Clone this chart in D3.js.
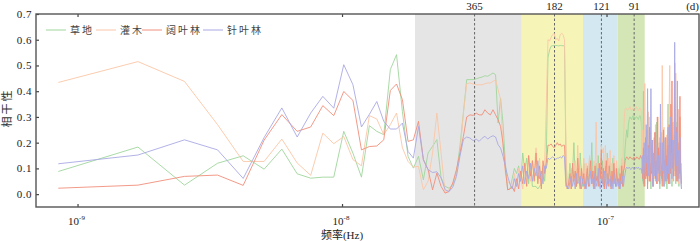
<!DOCTYPE html>
<html>
<head>
<meta charset="utf-8">
<script src="https://cdn.jsdelivr.net/npm/d3@7"></script>
<style>
body{margin:0;background:#fff;}
svg{display:block;font-family:"Liberation Serif","Times New Roman","Noto Sans CJK SC",serif;}
</style>
</head>
<body>
<div id="chart"></div>
<script>
var seriesNames = ["草地", "灌木", "阔叶林", "针叶林"];
var seriesColors = ["#9fd69c", "#fac6a6", "#f08e7a", "#a9a9e4"];

/* frequency step of the spectrum (Hz), point k sits at k*baseFreq */
var baseFreq = 8.46e-10;

var grass = [0.088,0.183,0.035,0.12,0.149,0.097,0.175,0.079,0.062,0.066,0.066,0.244,0.159,0.066,0.266,0.244,0.231,0.484,0.542,0.32,
 0.147,0.101,0.147,0.056,0.16,0.186,0.212,0.063,0.03,0.023,0.036,0.082,0.186,0.315,0.445,0.445,0.445,0.448,0.452,0.455,0.46,0.458,0.464,0.471,0.464,0.276,0.373,0.276,0.121,0.017,
 0.02,0.06,0.10,0.08,0.11,0.05,0.16,0.09,0.14,0.04,0.12,0.03,0.03,0.03,0.02,0.03,0.04,0.10,0.05,0.15,
 0.53,0.56,0.575,0.577,0.577,0.578,0.577,0.576,0.578,0.577,0.577,0.575,0.15,
 0.02,0.05,0.12,0.04,0.09,0.20,0.06,0.03,0.10,0.05,0.16,0.08,0.03,0.12,
 0.08,0.03,0.11,0.05,0.14,0.07,0.20,0.04,0.09,0.02,0.12,0.06,0.15,0.03,0.10,0.05,0.13,0.08,0.02,0.11,0.06,0.16,0.04,0.09,0.12,0.03,0.07,0.14,0.05,0.10,0.03,0.08,0.06,
 0.04,0.10,0.03,0.07,0.12,0.05,0.09,
 0.12,0.18,0.22,0.25,0.22,0.27,0.29,0.30,0.295,0.29,0.30,0.305,0.30,0.29,0.295,0.30,0.30,0.295,0.29,0.30,0.305,0.30,0.28,
 0.22,0.05,0.40,0.12,0.03,0.18,0.08,0.25,0.04,0.15,0.30,0.06,0.10,0.02,0.19,0.07,0.14,0.03,0.22,0.09,0.05,0.16,0.28,0.04,0.11,0.07,0.20,0.02,0.13,0.08,
 0.24,0.05,0.17,0.10,0.03,0.21,0.06,0.15,0.09,0.02,0.18,0.35,0.07,0.12,0.04,0.26,0.08,0.14,0.03,0.19,0.11,0.05,0.23,0.09,0.16,0.04,0.28,0.10,0.06,0.20,
 0.13,0.03,0.17,0.30,0.08,0.12,0.02];

var shrub = [0.434,0.515,0.438,0.27,0.127,0.127,0.214,0.121,0.073,0.237,0.196,0.224,0.134,0.11,0.305,0.292,0.231,0.27,0.315,0.18,
 0.127,0.105,0.108,0.017,0.05,0.16,0.315,0.16,0.004,0.017,0.043,0.076,0.16,0.315,0.429,0.432,0.428,0.425,0.425,0.425,0.429,0.432,0.432,0.438,0.445,0.406,0.367,0.186,0.082,0.05,
 0.04,0.02,0.08,0.03,0.10,0.06,0.02,0.11,0.07,0.15,0.05,0.13,0.09,0.18,0.06,0.14,0.03,0.08,0.12,0.35,
 0.60,0.595,0.61,0.62,0.625,0.60,0.605,0.595,0.62,0.625,0.62,0.60,0.20,
 0.03,0.06,0.02,0.10,0.05,0.08,0.13,0.04,0.19,0.07,0.03,0.11,0.06,0.14,
 0.05,0.12,0.04,0.09,0.15,0.06,0.11,0.03,0.13,0.08,0.28,0.07,0.12,0.05,0.10,0.19,0.16,0.18,0.07,0.19,0.11,0.04,0.14,0.08,0.17,0.06,0.12,0.03,0.15,0.09,0.05,0.13,0.08,
 0.07,0.03,0.11,0.06,0.14,0.09,0.20,
 0.30,0.33,0.335,0.33,0.325,0.33,0.335,0.34,0.33,0.325,0.33,0.335,0.33,0.325,0.33,0.34,0.335,0.33,0.325,0.33,0.335,0.33,0.32,
 0.10,0.25,0.08,0.18,0.43,0.12,0.06,0.20,0.09,0.32,0.05,0.15,0.24,0.07,0.13,0.04,0.21,0.10,0.17,0.06,0.27,0.11,0.08,0.19,0.30,0.05,0.14,0.22,0.09,0.16,
 0.12,0.50,0.20,0.07,0.26,0.13,0.04,0.18,0.11,0.23,0.08,0.15,0.06,0.34,0.50,0.14,0.09,0.21,0.05,0.17,0.28,0.10,0.07,0.19,0.12,0.47,0.16,0.08,0.25,0.11,
 0.04,0.20,0.14,0.09,0.30,0.06,0.03];

var broadleaf = [0.023,0.035,0.069,0.074,0.034,0.21,0.309,0.244,0.261,0.344,0.305,0.399,0.364,0.172,0.185,0.187,0.211,0.403,0.428,0.367,
 0.205,0.211,0.283,0.134,0.095,0.017,0.082,0.030,0.004,0.01,0.043,0.095,0.16,0.224,0.30,0.308,0.306,0.315,0.308,0.308,0.328,0.315,0.308,0.328,0.308,0.289,0.263,0.198,0.095,0.017,
 0.02,0.03,0.01,0.06,0.02,0.09,0.04,0.12,0.03,0.15,0.07,0.13,0.05,0.16,0.04,0.11,0.02,0.13,0.08,0.12,
 0.19,0.19,0.195,0.185,0.18,0.19,0.20,0.19,0.195,0.185,0.19,0.19,0.05,
 0.02,0.04,0.08,0.02,0.12,0.05,0.09,0.03,0.14,0.06,0.02,0.10,0.04,0.08,
 0.02,0.06,0.10,0.03,0.08,0.13,0.04,0.09,0.02,0.11,0.05,0.07,0.03,0.12,0.06,0.17,0.04,0.10,0.02,0.08,0.13,0.05,0.03,0.11,0.07,0.02,0.09,0.04,0.12,0.06,0.03,0.10,0.05,
 0.06,0.02,0.08,0.04,0.11,0.03,0.09,
 0.10,0.13,0.14,0.145,0.14,0.135,0.14,0.145,0.14,0.14,0.135,0.14,0.145,0.14,0.135,0.14,0.145,0.14,0.14,0.135,0.14,0.15,0.14,
 0.14,0.06,0.18,0.03,0.11,0.22,0.07,0.15,0.02,0.19,0.09,0.26,0.05,0.12,0.08,0.21,0.03,0.16,0.10,0.24,0.06,0.13,0.04,0.30,0.09,0.18,0.05,0.14,0.20,0.07,
 0.11,0.03,0.17,0.25,0.08,0.13,0.05,0.22,0.10,0.15,0.06,0.19,0.04,0.27,0.12,0.08,0.35,0.16,0.44,0.10,0.21,0.07,0.14,0.51,0.18,0.09,0.26,0.05,0.15,0.33,
 0.11,0.06,0.20,0.38,0.12,0.08,0.04];

var conifer = [0.118,0.152,0.211,0.172,0.061,0.22,0.335,0.222,0.315,0.38,0.334,0.503,0.425,0.261,0.31,0.36,0.283,0.253,0.253,0.276,
 0.166,0.14,0.263,0.134,0.095,0.084,0.087,0.063,0.017,0.01,0.027,0.069,0.147,0.212,0.222,0.218,0.208,0.214,0.205,0.217,0.225,0.214,0.222,0.227,0.222,0.192,0.179,0.147,0.108,0.069,
 0.04,0.02,0.06,0.03,0.08,0.05,0.11,0.04,0.09,0.06,0.12,0.05,0.10,0.07,0.13,0.06,0.09,0.04,0.11,0.10,
 0.14,0.135,0.14,0.145,0.14,0.135,0.14,0.14,0.145,0.14,0.15,0.145,0.03,
 0.03,0.02,0.05,0.07,0.03,0.06,0.02,0.08,0.04,0.05,0.07,0.02,0.06,0.03,
 0.04,0.02,0.07,0.05,0.03,0.09,0.04,0.06,0.02,0.08,0.03,0.05,0.10,0.04,0.02,0.07,0.05,0.03,0.09,0.06,0.02,0.08,0.04,0.06,0.03,0.07,0.05,0.02,0.08,0.04,0.06,0.03,0.05,
 0.03,0.06,0.02,0.05,0.04,0.07,0.03,
 0.06,0.08,0.10,0.105,0.10,0.10,0.105,0.10,0.095,0.10,0.105,0.10,0.10,0.095,0.10,0.105,0.10,0.10,0.105,0.10,0.095,0.10,0.10,
 0.08,0.15,0.04,0.20,0.10,0.06,0.27,0.12,0.41,0.07,0.18,0.05,0.14,0.41,0.09,0.21,0.03,0.16,0.11,0.07,0.24,0.13,0.05,0.19,0.08,0.15,0.10,0.04,0.35,0.12,
 0.06,0.20,0.09,0.17,0.03,0.13,0.22,0.07,0.11,0.05,0.18,0.26,0.08,0.14,0.04,0.30,0.10,0.16,0.06,0.21,0.12,0.09,0.19,0.59,0.15,0.07,0.24,0.11,0.44,0.05,
 0.17,0.13,0.08,0.22,0.10,0.04,0.02];

/* periods (days) marked with dashed lines */
var periodMarks = [365, 182, 121, 91];
/* shaded period bands (days) */
var bandFrom = [613, 242, 142, 105];
var bandTo = [242, 142, 105, 83];
var bandColors = ["#e6e5e5", "#f7f4b8", "#d3e8f1", "#d4e6b5"];

var yTicks = [0, 0.1, 0.2, 0.3, 0.4, 0.5, 0.6, 0.7];
var xTicks = [1e-9, 1e-8, 1e-7];
var xTickExp = ["-9", "-8", "-7"];

var width = 700, height = 241;
var plotLeft = 36, plotRight = 699, plotTop = 14, plotBottom = 207;
var daySec = 86400;

var svg = d3.select("#chart").append("svg")
    .attr("width", width)
    .attr("height", height);

var xScale = d3.scaleLog()
    .domain([6.966e-10, 2.237e-7])
    .range([plotLeft, plotRight]);

var yScale = d3.scaleLinear()
    .domain([-0.05, 0.7])
    .range([plotBottom, plotTop]);

var toFreq = d => 1 / (d * daySec);

/* background bands */
svg.selectAll("rect.band")
    .data(bandFrom)
    .enter()
    .append("rect")
    .attr("class", "band")
    .attr("x", (d) => xScale(toFreq(d)))
    .attr("width", (d, i) => xScale(toFreq(bandTo[i])) - xScale(toFreq(d)))
    .attr("y", plotTop)
    .attr("height", plotBottom - plotTop)
    .attr("fill", (d, i) => bandColors[i]);

/* dashed period lines */
svg.selectAll("line.period")
    .data(periodMarks)
    .enter()
    .append("line")
    .attr("x1", d => xScale(toFreq(d)))
    .attr("x2", d => xScale(toFreq(d)))
    .attr("y1", plotTop)
    .attr("y2", plotBottom)
    .attr("stroke", "#666")
    .attr("stroke-width", 1)
    .attr("stroke-dasharray", "2.5,2");

svg.selectAll("text.period")
    .data(periodMarks)
    .enter()
    .append("text")
    .attr("x", d => xScale(toFreq(d)))
    .attr("y", 10)
    .attr("text-anchor", "middle")
    .attr("font-size", 11)
    .attr("fill", "#222")
    .text(d => d);

svg.append("text")
    .attr("x", plotRight)
    .attr("y", 10)
    .attr("text-anchor", "end")
    .attr("font-size", 11)
    .attr("fill", "#222")
    .text("(d)");

/* series */
var allSeries = [grass, shrub, broadleaf, conifer];
var line = d3.line()
    .x((d, i) => xScale((i + 1) * baseFreq))
    .y(d => yScale(d));

svg.selectAll("path.series")
    .data(allSeries)
    .enter()
    .append("path")
    .attr("class", "series")
    .attr("d", d => line(d))
    .attr("fill", "none")
    .attr("stroke", (d, i) => seriesColors[i])
    .attr("stroke-width", 0.9);

/* axes */
var yAxis = d3.axisLeft(yScale).tickValues(yTicks).tickSize(-3).tickPadding(4).tickFormat(d3.format(".1f"));
var gy = svg.append("g")
    .attr("transform", "translate(" + plotLeft + ",0)")
    .call(yAxis);

var xAxisB = d3.axisBottom(xScale).tickValues(xTicks).tickSize(-3).tickFormat("");
svg.append("g")
    .attr("transform", "translate(0," + plotBottom + ")")
    .call(xAxisB);

var xAxisT = d3.axisTop(xScale).tickValues(xTicks).tickSize(-3).tickFormat("");
svg.append("g")
    .attr("transform", "translate(0," + plotTop + ")")
    .call(xAxisT);

svg.selectAll(".domain").remove();
svg.selectAll(".tick line").attr("stroke", "#444").attr("stroke-width", 1.2);
gy.selectAll("text")
    .attr("font-size", 11)
    .attr("font-family", "Liberation Serif")
    .attr("letter-spacing", "0.5px")
    .attr("fill", "#222");

/* 10^n labels */
var xl = svg.selectAll("text.xlab")
    .data(xTicks)
    .enter()
    .append("text")
    .attr("class", "xlab")
    .attr("x", d => xScale(d) - 1)
    .attr("y", 225)
    .attr("text-anchor", "middle")
    .attr("font-size", 11)
    .attr("fill", "#222");
xl.append("tspan").text("10");
xl.append("tspan")
    .attr("dy", -5)
    .attr("font-size", 7)
    .text((d, i) => xTickExp[i]);

/* frame */
svg.append("rect")
    .attr("x", plotLeft)
    .attr("y", plotTop)
    .attr("width", plotRight - plotLeft)
    .attr("height", plotBottom - plotTop)
    .attr("fill", "none")
    .attr("stroke", "#555")
    .attr("stroke-width", 1.4);

/* axis titles */
svg.append("text")
    .attr("x", xScale(1e-8))
    .attr("y", 239)
    .attr("text-anchor", "middle")
    .attr("font-size", 11)
    .attr("fill", "#222")
    .text("频率(Hz)");

svg.append("text")
    .attr("transform", "translate(11,108) rotate(-90)")
    .attr("text-anchor", "middle")
    .attr("font-size", 11)
    .attr("letter-spacing", "2px")
    .attr("fill", "#333")
    .text("相干性");

/* legend */
var legendX = [46, 96, 142, 203];
var legend = svg.selectAll("g.legend")
    .data(seriesNames)
    .enter()
    .append("g")
    .attr("class", "legend")
    .attr("transform", (d, i) => "translate(" + legendX[i] + ",30)");

legend.append("line")
    .attr("x1", 0)
    .attr("x2", 20)
    .attr("stroke", (d, i) => seriesColors[i])
    .attr("stroke-width", 1);

legend.append("text")
    .attr("x", 24)
    .attr("y", 3.5)
    .attr("font-size", 10)
    .attr("letter-spacing", "2px")
    .attr("fill", "#444")
    .attr("font-family", "Noto Sans CJK SC")
    .text(d => d);
</script>
</body>
</html>
